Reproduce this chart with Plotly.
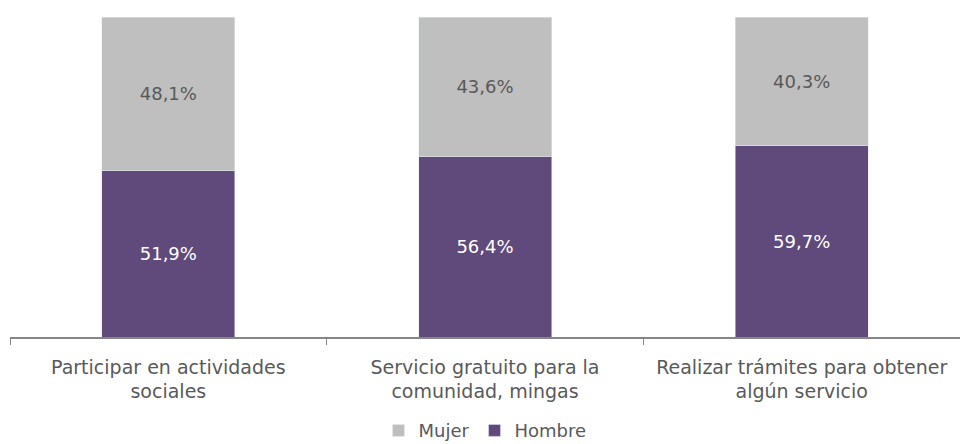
import plotly.graph_objects as go

categorias = ["Participar en actividades<br>sociales",
              "Servicio gratuito para la<br>comunidad, mingas",
              "Realizar trámites para obtener<br>algún servicio"]
hombre = [51.9, 56.4, 59.7]
mujer = [48.1, 43.6, 40.3]


def etiqueta(v):
    return ("%.1f%%" % v).replace(".", ",")


fuente = "DejaVu Sans, sans-serif"

fig = go.Figure()
fig.add_trace(go.Bar(x=categorias, y=hombre, name="Hombre",
                     marker=dict(color="#604A7B"),
                     text=[etiqueta(v) for v in hombre],
                     textposition="inside", insidetextanchor="middle",
                     textfont=dict(color="white", size=18),
                     width=0.42))
fig.add_trace(go.Bar(x=categorias, y=mujer, name="Mujer",
                     marker=dict(color="#BFBFBF"),
                     text=[etiqueta(v) for v in mujer],
                     textposition="inside", insidetextanchor="middle",
                     textfont=dict(color="#595959", size=18),
                     width=0.42))

fig.update_layout(
    barmode="stack",
    width=960, height=444,
    margin=dict(l=10, r=0, t=17, b=107, autoexpand=False),
    plot_bgcolor="white", paper_bgcolor="white",
    font=dict(family=fuente, color="#595959", size=18),
    showlegend=True,
    legend=dict(orientation="h", x=0.5, xanchor="center",
                yref="container", y=0.03, yanchor="middle",
                traceorder="reversed", font=dict(size=18),
                itemwidth=30, tracegroupgap=0),
    uniformtext=dict(mode="show", minsize=10),
)
fig.update_xaxes(showline=True, linecolor="#868686", linewidth=1.5,
                 ticks="outside", tickson="boundaries", ticklen=6, tickcolor="#868686",
                 ticklabelstandoff=12, automargin=False,
                 tickfont=dict(size=19, color="#595959", family=fuente))
fig.update_yaxes(range=[0, 100], visible=False, showgrid=False, automargin=False)

# quitar el margen del body para que la figura quede en (0,0)
fig.write_html("out.html", config={"displayModeBar": False},
               post_script="document.body.style.margin='0';")
